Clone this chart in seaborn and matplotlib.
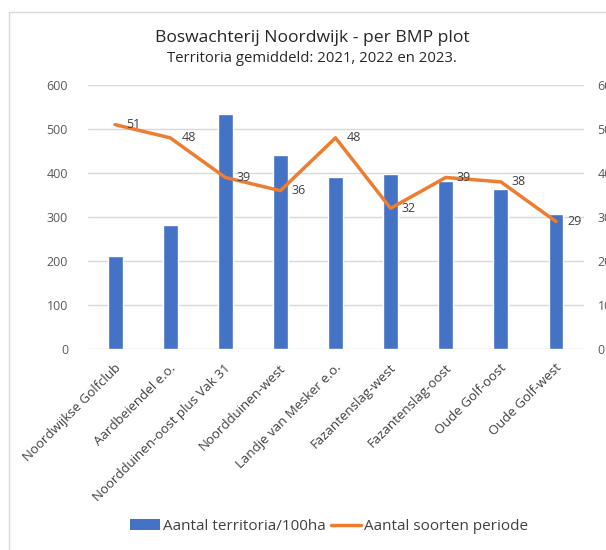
import matplotlib.pyplot as plt
import seaborn as sns
import numpy as np
import pandas as pd
from matplotlib.patches import Patch, Rectangle
from matplotlib.lines import Line2D

plots = [
    "Noordwijkse Golfclub",
    "Aardbeiendel e.o.",
    "Noordduinen-oost plus Vak 31",
    "Noordduinen-west",
    "Landje van Mesker e.o.",
    "Fazantenslag-west",
    "Fazantenslag-oost",
    "Oude Golf-oost",
    "Oude Golf-west",
]
territoria = [212, 281, 533, 442, 392, 397, 381, 363, 306]
soorten = [51, 48, 39, 36, 48, 32, 39, 38, 29]

bar_color = "#4472C4"
line_color = "#ED7D31"
text_color = "#595959"

sns.set_theme(style="white")
plt.rcParams["font.family"] = ["Open Sans", "DejaVu Sans"]

df = pd.DataFrame({"pos": np.arange(len(plots)), "plot": plots,
                   "territoria": territoria, "soorten": soorten})

fig = plt.figure(figsize=(6.06, 5.5), dpi=100)
ax = fig.add_axes([0.1444, 0.365, 0.8185, 0.4805])

sns.barplot(data=df, x="pos", y="territoria", color=bar_color, width=0.27,
            saturation=1, ax=ax)
ax.set_ylim(0, 600)
ax.set_yticks(range(0, 601, 100))
ax.set_xlim(-0.5, len(plots) - 0.5)
ax.yaxis.grid(True, color="#D9D9D9", linewidth=1)
ax.set_axisbelow(True)
for s in ax.spines.values():
    s.set_visible(False)
ax.tick_params(axis="y", length=0, pad=14, labelsize=9, labelcolor=text_color)
ax.set_xticks(range(len(plots)))
ax.set_xticklabels([])
ax.tick_params(axis="x", length=0)
# category labels placed by hand so they sit like the Excel ones
for i, name in enumerate(plots):
    ax.annotate(name, (i, 0), xytext=(2.5, -12), textcoords="offset points",
                rotation=45, ha="right", va="center", rotation_mode="anchor",
                fontsize=9.5, color="#404040", annotation_clip=False)
ax.set_xlabel("")
ax.set_ylabel("")

ax2 = ax.twinx()
sns.lineplot(data=df, x="pos", y="soorten", color=line_color, linewidth=2.5,
             ax=ax2)
ax2.set_ylim(0, 60)
ax2.set_yticks(range(0, 61, 10))
ax2.set_ylabel("")
for s in ax2.spines.values():
    s.set_visible(False)
ax2.tick_params(axis="y", length=0, pad=10, labelsize=9, labelcolor=text_color)
for x, y in zip(df["pos"], df["soorten"]):
    ax2.annotate(str(y), (x, y), xytext=(8, 0), textcoords="offset points",
                 ha="left", va="center", fontsize=9, color="#404040")

fig.text(0.515, 0.931, "Boswachterij Noordwijk - per BMP plot",
         ha="center", va="center", fontsize=12.6, color="#262626")
fig.text(0.515, 0.893, "Territoria gemiddeld: 2021, 2022 en 2023.",
         ha="center", va="center", fontsize=10.7, color="#262626")

handles = [Patch(facecolor=bar_color, edgecolor="none"),
           Line2D([0], [0], color=line_color, linewidth=2.5)]
fig.legend(handles, ["Aantal territoria/100ha", "Aantal soorten periode"],
           loc="center", bbox_to_anchor=(0.543, 0.043), ncol=2, frameon=False,
           fontsize=11, handlelength=2.0, handletextpad=0.2, columnspacing=0.3,
           labelcolor="#404040")

fig.patches.append(Rectangle((9 / 606, -0.1), 1.2, 1.1 - 12 / 550,
                             transform=fig.transFigure, fill=False,
                             edgecolor="#D9D9D9", linewidth=1))

fig.savefig("out.png", dpi=100)
